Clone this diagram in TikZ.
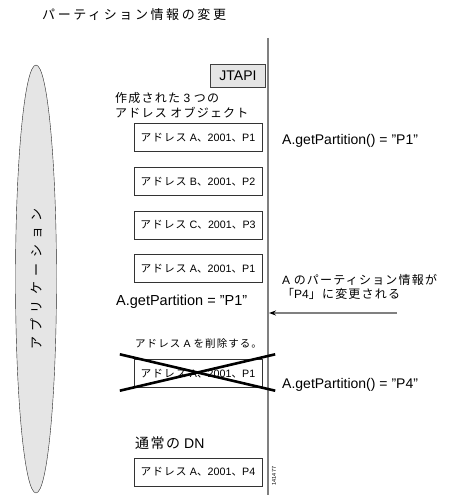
\documentclass[tikz,border=0pt]{standalone}
\usepackage{fontspec}
\setmainfont{Liberation Sans}
\newfontfamily\jp[LetterSpace=10]{Noto Sans CJK JP}
\newfontfamily\jptitle[LetterSpace=20]{Noto Sans CJK JP}
\newfontfamily\jpwide[LetterSpace=42]{Noto Sans CJK JP}
\usetikzlibrary{positioning,calc}
\usetikzlibrary{shapes.geometric,arrows.meta}

\newcommand{\jsp}{\hspace{0.3em}}
\newcommand{\addrlabel}[2]{{\jp アドレス}\jsp#1{\jp 、}2001{\jp 、}#2}

\begin{document}
\begin{tikzpicture}[x=1pt, y=-1pt,
  addr/.style={draw=black!80, minimum width=128pt, minimum height=28pt, inner sep=1pt, font=\fontsize{10.7}{12}\selectfont},
  note/.style={anchor=west, inner sep=0pt, align=left, font=\fontsize{12}{14}\selectfont},
  call/.style={anchor=west, inner sep=0pt, font=\fontsize{14}{16}\selectfont},
  msg/.style={gray, line width=1.2pt}]
\useasboundingbox (0,0) rectangle (455,495);

\path (42,15) node[anchor=west, inner sep=0pt, font=\fontsize{13}{15}\jptitle] (title) {パーティション情報の変更};

\path (36,279) node[draw=black!85, fill=black!10, shape=ellipse, rotate=90, minimum width=428pt, minimum height=41pt, inner sep=0pt, font=\fontsize{13}{15}\jpwide] (app) {アプリケーション};

\path (268,38) coordinate (jtop);
\path (268,495) coordinate (jbot);
\draw[msg] (jtop) -- (jbot);

\path (238,76) node[draw=black!75, fill=black!10, minimum width=55pt, minimum height=23pt, inner sep=0pt, font=\fontsize{14}{16}\selectfont] (jtapi) {JTAPI};

\path (115,105) node[note, font=\fontsize{12}{15}\selectfont] (created) {{\jp 作成された}\jsp3\jsp{\jp つの}\\{\jp アドレス\jsp オブジェクト}};

\path (198,137.5) node[addr] (addr_a) {\addrlabel{A}{P1}};
\path (198,181.5) node[addr] (addr_b) {\addrlabel{B}{P2}};
\path (198,225) node[addr] (addr_c) {\addrlabel{C}{P3}};
\path (198,268.5) node[addr] (addr_a_old) {\addrlabel{A}{P1}};

\path (282,141) node[call] (get_p1) {A.getPartition() = "P1"};

\path (282,287) node[note, font=\fontsize{12}{13.5}\selectfont] (changed) {A\jsp{\jp のパーティション情報が}\\{\jp 「}P4{\jp 」に変更される}};
\path (397,313) coordinate (chg_start);
\path (269,313) coordinate (chg_end);
\draw[msg, -{Stealth[length=7pt, width=5pt, black]}] (chg_start) -- (chg_end);

\path (116,302) node[call, font=\fontsize{14.5}{16}\selectfont] (app_p1) {A.getPartition = "P1"};

\path (135,344) node[note, font=\fontsize{10.5}{12}\selectfont] (delete) {{\jp アドレス}\jsp A\jsp{\jp を削除する。}};
\path (198,373.5) node[addr] (addr_del) {\addrlabel{A}{P1}};
\draw[line width=2.6pt] ($(addr_del.north west)+(-14,-5)$) -- ($(addr_del.south east)+(13,3)$);
\draw[line width=2.6pt] ($(addr_del.south west)+(-14,3)$) -- ($(addr_del.north east)+(13,-5)$);

\path (282,385) node[call] (get_p4) {A.getPartition() = "P4"};

\path (135,443) node[note, font=\fontsize{14}{16}\selectfont] (dn) {{\jp 通常の}\jsp DN};
\path (198,472) node[addr] (addr_dn) {\addrlabel{A}{P4}};

\path (274,476) node[rotate=90, inner sep=0pt, font=\fontsize{5.5}{6}\selectfont] (fig_id) {141477};
\end{tikzpicture}
\end{document}
